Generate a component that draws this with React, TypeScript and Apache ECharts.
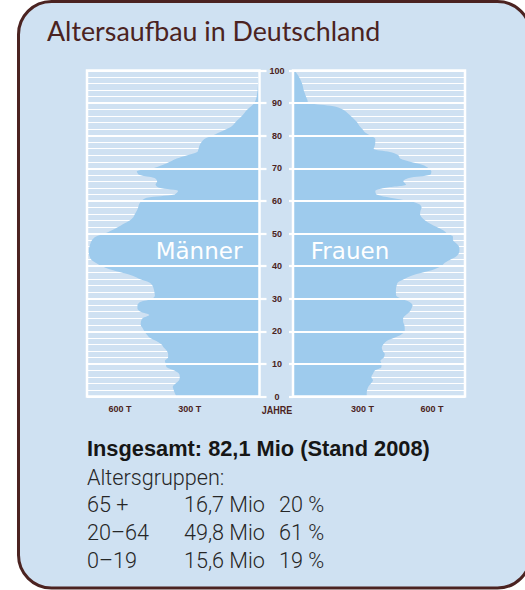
import React, { useEffect, useRef } from "react";
import * as echarts from "echarts";

// ---- data ----
const AGES: string[] = Array.from({ length: 101 }, (_, i) => String(i));

// Männer, Tausend je Altersjahr (0..100)
const MEN: number[] = [
  357, 364, 369, 373, 361, 346, 343, 346, 366, 399,
  403, 407, 393, 393, 399, 412, 422, 444, 472, 485,
  495, 503, 511, 510, 503, 474, 511, 525, 525, 513,
  462, 450, 452, 455, 460, 474, 513, 543, 594, 645,
  680, 705, 724, 731, 734, 734, 731, 727, 720, 705,
  665, 635, 608, 584, 558, 543, 536, 528, 522, 518,
  508, 485, 365, 350, 432, 447, 440, 452, 518, 528,
  457, 417, 385, 356, 310, 268, 262, 258, 250, 237,
  204, 174, 143, 118, 105, 92, 77, 65, 52, 36,
  22, 16, 12, 10, 8, 7, 6, 5, 4, 3, 2,
];

// Frauen, Tausend je Altersjahr (0..100)
const WOMEN: number[] = [
  318, 318, 320, 325, 336, 345, 338, 345, 353, 381,
  382, 377, 392, 396, 387, 383, 390, 404, 437, 467,
  482, 482, 480, 475, 475, 487, 503, 511, 516, 503,
  467, 445, 444, 444, 447, 452, 478, 508, 560, 610,
  640, 655, 680, 705, 716, 718, 716, 704, 690, 690,
  665, 648, 620, 592, 570, 555, 548, 550, 555, 545,
  500, 420, 360, 355, 400, 488, 476, 500, 592, 597,
  585, 560, 505, 462, 455, 418, 348, 353, 355, 355,
  336, 311, 300, 287, 278, 265, 250, 235, 215, 175,
  67, 62, 56, 51, 46, 43, 39, 33, 26, 17, 6,
];

const X_TICKS: number[] = [300, 600];
const X_MAX = 742;

const TITLE = "Altersaufbau in Deutschland";
const LABEL_MEN = "Männer";
const LABEL_WOMEN = "Frauen";
const AXIS_NAME = "JAHRE";
const SUMMARY_TITLE = "Insgesamt: 82,1 Mio (Stand 2008)";
const SUMMARY_SUB = "Altersgruppen:";
const GROUPS: string[] = ["65 +", "20–64", "0–19"];
const GROUP_MIO: string[] = ["16,7 Mio", "49,8 Mio", "15,6 Mio"];
const GROUP_PCT: string[] = ["20 %", "61 %", "19 %"];

// ---- styles ----
const BROWN = "#4b2321";
const BG = "#cfe1f2";
const FILL = "#9ecbed";
const LABEL_FONT = "'Liberation Sans', Arial, sans-serif";

function txt(
  text: string,
  x: number,
  y: number,
  opts: { size: number; weight?: string | number; color?: string; family?: string; align?: string; scaleX?: number }
) {
  return {
    type: "text",
    x,
    y,
    scaleX: opts.scaleX ?? 1,
    z: 100,
    style: {
      text,
      x: 0,
      y: 0,
      fill: opts.color ?? "#222",
      fontSize: opts.size,
      fontWeight: opts.weight ?? "normal",
      fontFamily: opts.family ?? LABEL_FONT,
      align: opts.align ?? "left",
      textAlign: opts.align ?? "left",
      verticalAlign: "middle",
      textVerticalAlign: "middle",
    },
  };
}

export default function App() {
  const ref = useRef<HTMLDivElement>(null);

  useEffect(() => {
    if (!ref.current) return;
    const chart = echarts.init(ref.current, null, { renderer: "svg" });

    const xLabel = {
      color: BROWN,
      fontSize: 9,
      fontWeight: "bold",
      fontFamily: LABEL_FONT,
      margin: 8,
      formatter: (v: number) => (X_TICKS.indexOf(v) >= 0 ? `${v} T` : ""),
    };

    const thinSplit = {
      show: true,
      interval: (i: number) => i % 2 === 0,
      lineStyle: { color: "#ffffff", width: 1.2 },
    };

    const regular = "Roboto, 'Liberation Sans', Arial, sans-serif";
    const regSize = 21.6;
    const rowsY = [504.4, 532.4, 560.4];
    const graphics: any[] = [
      {
        type: "rect",
        z: -10,
        shape: { x: 18.5, y: 1.5, width: 512, height: 586.5, r: 33 },
        style: { fill: BG, stroke: BROWN, lineWidth: 3 },
      },
      {
        type: "rect",
        z: 90,
        shape: { x: 87, y: 70.5, width: 172.5, height: 326 },
        style: { fill: "none", stroke: "#ffffff", lineWidth: 2.5 },
      },
      {
        type: "rect",
        z: 90,
        shape: { x: 293, y: 70.5, width: 172, height: 326 },
        style: { fill: "none", stroke: "#ffffff", lineWidth: 2.5 },
      },
      txt(TITLE, 47, 31, { size: 26.8, color: BROWN, family: "Lato, 'Open Sans', sans-serif" }),
      txt(LABEL_MEN, 199, 251, { size: 23, color: "#ffffff", family: "'DejaVu Sans', sans-serif", align: "center" }),
      txt(LABEL_WOMEN, 350, 251, { size: 23, color: "#ffffff", family: "'DejaVu Sans', sans-serif", align: "center" }),
      txt(AXIS_NAME, 277, 410, { size: 11, weight: "bold", color: BROWN, align: "center", scaleX: 0.82 }),
      txt(SUMMARY_TITLE, 87, 448.4, { size: 21.8, weight: "bold", color: "#161616" }),
      txt(SUMMARY_SUB, 87, 477.4, { size: regSize, weight: 300, color: "#262626", family: regular }),
    ];
    GROUPS.forEach((g, i) => {
      graphics.push(txt(g, 87, rowsY[i], { size: regSize, weight: 300, color: "#262626", family: regular }));
      graphics.push(txt(GROUP_MIO[i], 184, rowsY[i], { size: regSize, weight: 300, color: "#262626", family: regular }));
      graphics.push(txt(GROUP_PCT[i], 279, rowsY[i], { size: regSize, weight: 300, color: "#262626", family: regular }));
    });

    chart.setOption({
      animation: false,
      backgroundColor: "#ffffff",
      grid: [
        { left: 87, top: 70.5, width: 172.5, height: 326 },
        { left: 293, top: 70.5, width: 172, height: 326 },
      ],
      xAxis: [
        {
          gridIndex: 0,
          type: "value",
          min: 0,
          max: X_MAX,
          interval: 300,
          inverse: true,
          axisLine: { show: false },
          axisTick: { show: false },
          splitLine: { show: false },
          axisLabel: xLabel,
        },
        {
          gridIndex: 1,
          type: "value",
          min: 0,
          max: X_MAX,
          interval: 300,
          axisLine: { show: false },
          axisTick: { show: false },
          splitLine: { show: false },
          axisLabel: xLabel,
        },
      ],
      yAxis: [
        {
          gridIndex: 0,
          type: "category",
          data: AGES,
          boundaryGap: false,
          position: "right",
          axisLine: { show: false },
          axisTick: { show: false },
          axisLabel: { show: false },
          splitLine: thinSplit,
        },
        {
          gridIndex: 1,
          type: "category",
          data: AGES,
          boundaryGap: false,
          position: "left",
          axisLine: { show: false },
          axisTick: { show: false },
          axisLabel: { show: false },
          splitLine: thinSplit,
        },
        {
          gridIndex: 0,
          type: "value",
          min: 0,
          max: 100,
          interval: 10,
          position: "right",
          z: 10,
          axisLine: { show: false },
          axisTick: { show: true, inside: false, length: 7, lineStyle: { color: "#ffffff", width: 2.2 } },
          axisLabel: { show: false },
          splitLine: { show: true, lineStyle: { color: "#ffffff", width: 2.2 } },
        },
        {
          gridIndex: 1,
          type: "value",
          min: 0,
          max: 100,
          interval: 10,
          position: "left",
          z: 10,
          axisLine: { show: false },
          axisTick: { show: true, inside: false, length: 4, lineStyle: { color: "#ffffff", width: 2.2 } },
          axisLabel: {
            show: true,
            color: BROWN,
            fontSize: 9,
            fontWeight: "bold",
            fontFamily: LABEL_FONT,
            align: "center",
            margin: 16,
          },
          splitLine: { show: true, lineStyle: { color: "#ffffff", width: 2.2 } },
        },
      ],
      series: [
        {
          name: LABEL_MEN,
          type: "line",
          xAxisIndex: 0,
          yAxisIndex: 0,
          data: MEN,
          smooth: 0.3,
          symbol: "none",
          lineStyle: { width: 0 },
          areaStyle: { color: FILL, opacity: 1 },
        },
        {
          name: LABEL_WOMEN,
          type: "line",
          xAxisIndex: 1,
          yAxisIndex: 1,
          data: WOMEN,
          smooth: 0.3,
          symbol: "none",
          lineStyle: { width: 0 },
          areaStyle: { color: FILL, opacity: 1 },
        },
      ],
      graphic: graphics,
    });

    return () => chart.dispose();
  }, []);

  return (
    <div
      ref={ref}
      style={{ position: "fixed", left: 0, top: 0, width: 525, height: 590, background: "#fff" }}
    />
  );
}
